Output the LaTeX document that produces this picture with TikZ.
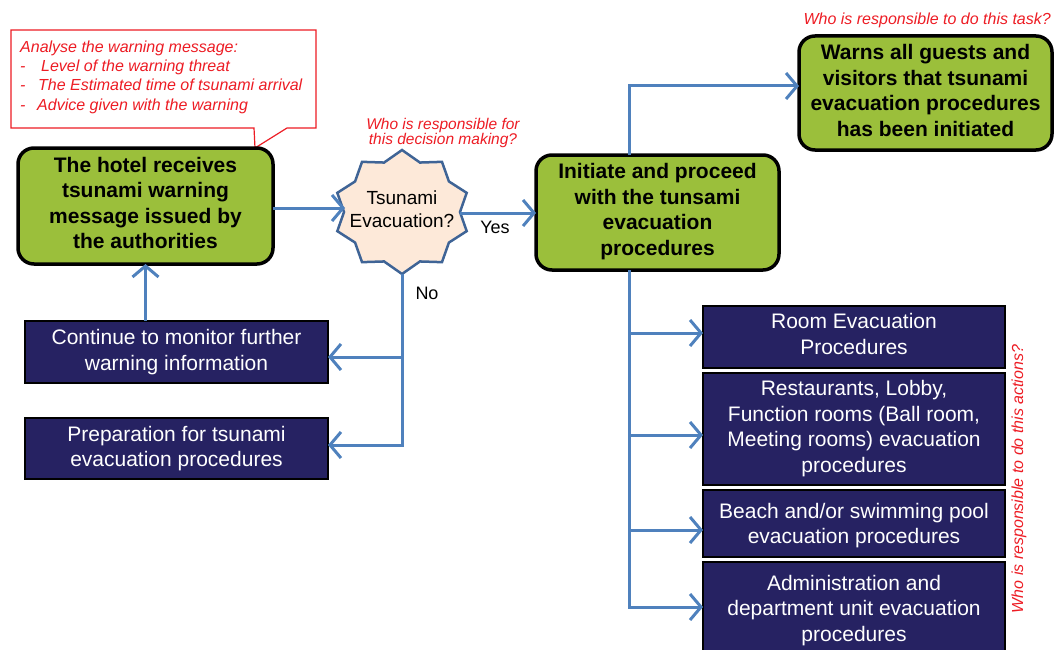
\documentclass[tikz,border=0pt]{standalone}
\usepackage{fontspec}
\setmainfont{Liberation Sans}
\usetikzlibrary{arrows.meta}
\definecolor{gfill}{RGB}{155,191,59}
\definecolor{navy}{RGB}{38,34,98}
\definecolor{cblue}{RGB}{79,129,189}
\definecolor{sborder}{RGB}{63,100,150}
\definecolor{sfill}{RGB}{253,233,217}
\definecolor{qred}{RGB}{237,28,36}
\begin{document}
\begin{tikzpicture}[x=1pt,y=-1pt,
  greenbox/.style={draw=black, line width=3.5pt, fill=gfill, rounded corners=16pt, inner sep=0pt, outer sep=0pt},
  gtext/.style={align=center, font=\fontsize{21}{25.5}\selectfont\bfseries, inner sep=0pt},
  navybox/.style={draw=black, line width=2.5pt, fill=navy, inner sep=0pt, outer sep=0pt},
  ntext/.style={text=white, align=center, font=\fontsize{21}{25.5}\selectfont, inner sep=0pt},
  conn/.style={draw=cblue, line width=3pt},
  arr/.style={conn, -{Straight Barb[length=11pt,width=26pt]}},
  redtxt/.style={text=qred, font=\fontsize{16}{16}\selectfont\itshape, align=center, inner sep=0pt},
  lbl/.style={font=\fontsize{18}{23}\selectfont, inner sep=0pt}]
\useasboundingbox (0,0) rectangle (1054,650);

% callout
\draw[qred, line width=1.2pt, fill=white] (11,30) -- (316,30) -- (316,128) -- (287,128) -- (255,148) -- (254,128) -- (11,128) -- cycle;
\node[text=qred, font=\fontsize{16}{19.3}\selectfont\itshape, align=left, inner sep=0pt, anchor=north west] (callout) at (20,40.5)
  {Analyse the warning message:\\
   \makebox[21pt][l]{-}Level of the warning threat\\
   \makebox[18pt][l]{-}The Estimated time of tsunami arrival\\
   \makebox[17pt][l]{-}Advice given with the warning};

% green boxes
\node[greenbox, minimum width=255pt, minimum height=116pt] (hotel) at (145.5,206) {};
\node[gtext] (hotelt) at (145.5,203) {The hotel receives\\tsunami warning\\message issued by\\the authorities};
\node[greenbox, minimum width=243pt, minimum height=115pt] (init) at (657.5,212.5) {};
\node[gtext] (initt) at (657.5,211.5) {Initiate and proceed\\with the tunsami\\evacuation\\procedures};
\node[greenbox, minimum width=253pt, minimum height=114pt] (warns) at (925.5,93) {};
\node[gtext] (warnst) at (925.5,90.5) {Warns all guests and\\visitors that tsunami\\evacuation procedures\\has been initiated};

% navy boxes
\node[navybox, minimum width=303pt, minimum height=62pt] (cont) at (176.5,352) {};
\node[ntext] (contt) at (176.5,352) {Continue to monitor further\\warning information};
\node[navybox, minimum width=303pt, minimum height=61pt] (prep) at (176.5,448.5) {};
\node[ntext] (prept) at (176.5,448.5) {Preparation for tsunami\\evacuation procedures};
\node[navybox, minimum width=302pt, minimum height=62pt] (r1) at (854,337) {};
\node[ntext] (r1t) at (854,334) {Room Evacuation\\Procedures};
\node[navybox, minimum width=302pt, minimum height=112pt] (r2) at (854,429) {};
\node[ntext] (r2t) at (854,428.5) {Restaurants, Lobby,\\Function rooms (Ball room,\\Meeting rooms) evacuation\\procedures};
\node[navybox, minimum width=302pt, minimum height=67pt] (r3) at (854,523.5) {};
\node[ntext] (r3t) at (854,525.5) {Beach and/or swimming pool\\evacuation procedures};
\node[navybox, minimum width=302pt, minimum height=92pt] (r4) at (854,608) {};
\node[ntext] (r4t) at (854,610.5) {Administration and\\department unit evacuation\\procedures};

% decision star
\draw[draw=sborder, line width=2.5pt, fill=sfill]
  plot[samples at={0,...,19}] ({402+ifthenelse(mod(\x,2)==0,68,58)*cos(90+18*\x)},
                               {212-ifthenelse(mod(\x,2)==0,62,52)*sin(90+18*\x)}) -- cycle;
\node[lbl, font=\fontsize{19}{23}\selectfont] (dec) at (402,209.5) [align=center] {Tsunami\\Evacuation?};
\coordinate (starW) at (345,208);
\coordinate (starE) at (460,213);
\coordinate (starS) at (402,274);

% red questions
\node[redtxt, font=\fontsize{15.5}{15.5}\selectfont\itshape] (q1) at (443,133) {Who is responsible for\\this decision making?};
\node[redtxt, anchor=east] (q2) at (1051,20) {Who is responsible to do this task?};
\node[redtxt, rotate=90] (q3) at (1019,479) {Who is responsible to do this actions?};

% connectors
\draw[arr] (hotel.east |- starW) -- (starW);
\draw[arr] (starE) -- (init.west |- starE);
\node[lbl] (yes) at (495,227) {Yes};
\node[lbl] (no) at (427,293) {No};

\coordinate (nb1) at (402,357);
\coordinate (nb2) at (402,445);
\draw[arr] (starS) |- (prep.east |- nb2);
\draw[arr] (nb1) -- (cont.east |- nb1);
\draw[arr] (hotel.south |- cont.north) -- (hotel.south);

\coordinate (iu) at (629,86);
\draw[arr] (init.north -| iu) |- (warns.west |- iu);

\coordinate (b1) at (629,333);
\coordinate (b2) at (629,435);
\coordinate (b3) at (629,530);
\coordinate (b4) at (629,607);
\draw[arr] (init.south -| iu) |- (r4.west |- b4);
\draw[arr] (b1) -- (r1.west |- b1);
\draw[arr] (b2) -- (r2.west |- b2);
\draw[arr] (b3) -- (r3.west |- b3);
\end{tikzpicture}
\end{document}
